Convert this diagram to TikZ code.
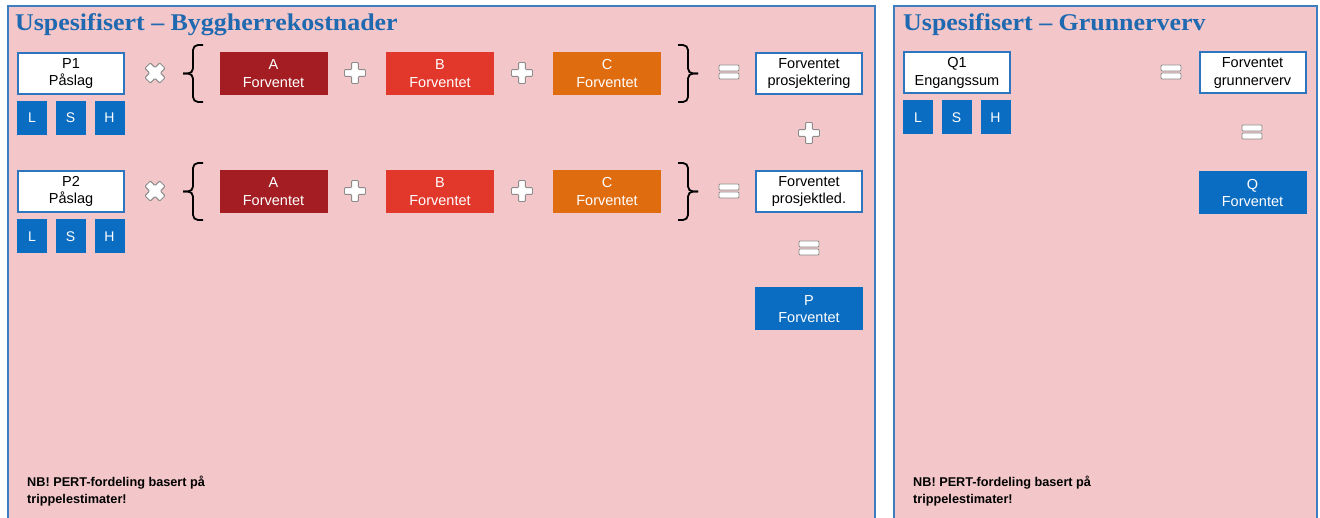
\documentclass[tikz,border=0pt]{standalone}
\usepackage{fontspec}
\setmainfont{Liberation Sans}
\newfontfamily\titlefont{Liberation Serif}
\definecolor{panelfill}{HTML}{F3C7C9}
\definecolor{panelline}{HTML}{3D7EC2}
\definecolor{titleblue}{HTML}{1F69B1}
\definecolor{boxline}{HTML}{2E75C0}
\definecolor{bluefill}{HTML}{0B6DC2}
\definecolor{colA}{HTML}{A31D22}
\definecolor{colB}{HTML}{E2372B}
\definecolor{colC}{HTML}{E06C10}
\definecolor{symline}{HTML}{8C8C8C}
\tikzset{
  panel/.style={fill=panelfill,draw=panelline,line width=2pt},
  boxtext/.style={font=\fontsize{14.5}{17.5}\selectfont,align=center,inner sep=0pt,minimum width=108pt,minimum height=43pt},
  whitebox/.style={boxtext,fill=white,draw=boxline,line width=2pt,minimum width=106pt,minimum height=41pt},
  fillbox/.style={boxtext,text=white},
  lsh/.style={fill=bluefill,text=white,font=\fontsize{14}{16}\selectfont,inner sep=0pt,minimum width=30pt,minimum height=34pt},
  symb/.style={fill=white,draw=symline,line width=0.9pt,rounded corners=1pt},
  bracepath/.style={draw=black,line width=1.8pt,rounded corners=5pt},
  titletext/.style={text=titleblue,font=\titlefont\bfseries\fontsize{24}{28}\selectfont,inner sep=0pt,anchor=base west},
  nbtext/.style={font=\bfseries\fontsize{12.7}{17}\selectfont,align=left,inner sep=0pt,anchor=north west},
  plussign/.pic={\draw[symb] (-3.4,-10.5) -- (3.4,-10.5) -- (3.4,-3.4) -- (10.5,-3.4) -- (10.5,3.4) -- (3.4,3.4) -- (3.4,10.5) -- (-3.4,10.5) -- (-3.4,3.4) -- (-10.5,3.4) -- (-10.5,-3.4) -- (-3.4,-3.4) -- cycle;},
  timessign/.pic={\draw[symb,rotate=45] (-3.8,-10.5) -- (3.8,-10.5) -- (3.8,-3.8) -- (10.5,-3.8) -- (10.5,3.8) -- (3.8,3.8) -- (3.8,10.5) -- (-3.8,10.5) -- (-3.8,3.8) -- (-10.5,3.8) -- (-10.5,-3.8) -- (-3.8,-3.8) -- cycle;},
  equalsign/.pic={\draw[symb] (-10,-7) rectangle (10,-1); \draw[symb] (-10,1) rectangle (10,7);},
  leftbrace/.pic={\draw[bracepath] (10,-28.5) -- (0,-28.5) -- (0,0) -- (-10,0);
                  \draw[bracepath] (10,28.5) -- (0,28.5) -- (0,0) -- (-10,0);},
  rightbrace/.pic={\draw[bracepath] (-10,-28.5) -- (0,-28.5) -- (0,0) -- (10,0);
                   \draw[bracepath] (-10,28.5) -- (0,28.5) -- (0,0) -- (10,0);}
}
\begin{document}
\begin{tikzpicture}[x=1pt,y=-1pt]
\useasboundingbox (0,0) rectangle (1320,518);
% panels
\draw[panel] (8,6) rectangle (875,530);
\draw[panel] (894,6) rectangle (1317,530);
\node[titletext] (t1) at (15,31) {\scalebox{1.08}[1]{Uspesifisert – Byggherrekostnader}};
\node[titletext] (t2) at (903,31) {\scalebox{1.08}[1]{Uspesifisert – Grunnerverv}};
% row 1
\node[whitebox] (p1) at (71,73.5) {P1\\Påslag};
\node[lsh] (l1) at (32,118) {L};
\node[lsh] (s1) at (70.5,118) {S};
\node[lsh] (h1) at (109.5,118) {H};
\pic at (155,73) {timessign};
\pic at (193,73.5) {leftbrace};
\node[fillbox,fill=colA] (a1) at (273.5,73.5) {A\\Forventet};
\pic at (355,73) {plussign};
\node[fillbox,fill=colB] (b1) at (440,73.5) {B\\Forventet};
\pic at (522,73) {plussign};
\node[fillbox,fill=colC] (c1) at (607,73.5) {C\\Forventet};
\pic at (688,73.5) {rightbrace};
\pic at (729,72) {equalsign};
\node[whitebox] (fp) at (809,73.5) {Forventet\\prosjektering};
\pic at (809,133) {plussign};
% row 2
\node[whitebox] (p2) at (71,191.5) {P2\\Påslag};
\node[lsh] (l2) at (32,236.5) {L};
\node[lsh] (s2) at (70.5,236.5) {S};
\node[lsh] (h2) at (109.5,236.5) {H};
\pic at (155,191) {timessign};
\pic at (193,191.5) {leftbrace};
\node[fillbox,fill=colA] (a2) at (273.5,191.5) {A\\Forventet};
\pic at (355,191) {plussign};
\node[fillbox,fill=colB] (b2) at (440,191.5) {B\\Forventet};
\pic at (522,191) {plussign};
\node[fillbox,fill=colC] (c2) at (607,191.5) {C\\Forventet};
\pic at (688,191.5) {rightbrace};
\pic at (729,191) {equalsign};
\node[whitebox] (fl) at (809,191.5) {Forventet\\prosjektled.};
\pic at (809,248) {equalsign};
\node[fillbox,fill=bluefill] (p) at (809,309) {P\\Forventet};
% right panel
\node[whitebox] (q1) at (957,73) {Q1\\Engangssum};
\node[lsh] (l3) at (918,117.5) {L};
\node[lsh] (s3) at (956.5,117.5) {S};
\node[lsh] (h3) at (995.5,117.5) {H};
\pic at (1171,72) {equalsign};
\node[whitebox] (fg) at (1252.5,73) {Forventet\\grunnerverv};
\pic at (1252,132) {equalsign};
\node[fillbox,fill=bluefill] (q) at (1252.5,193) {Q\\Forventet};
% notes
\node[nbtext] (nb1) at (27,476) {NB! PERT-fordeling basert på\\trippelestimater!};
\node[nbtext] (nb2) at (913,476) {NB! PERT-fordeling basert på\\trippelestimater!};
\end{tikzpicture}
\end{document}
